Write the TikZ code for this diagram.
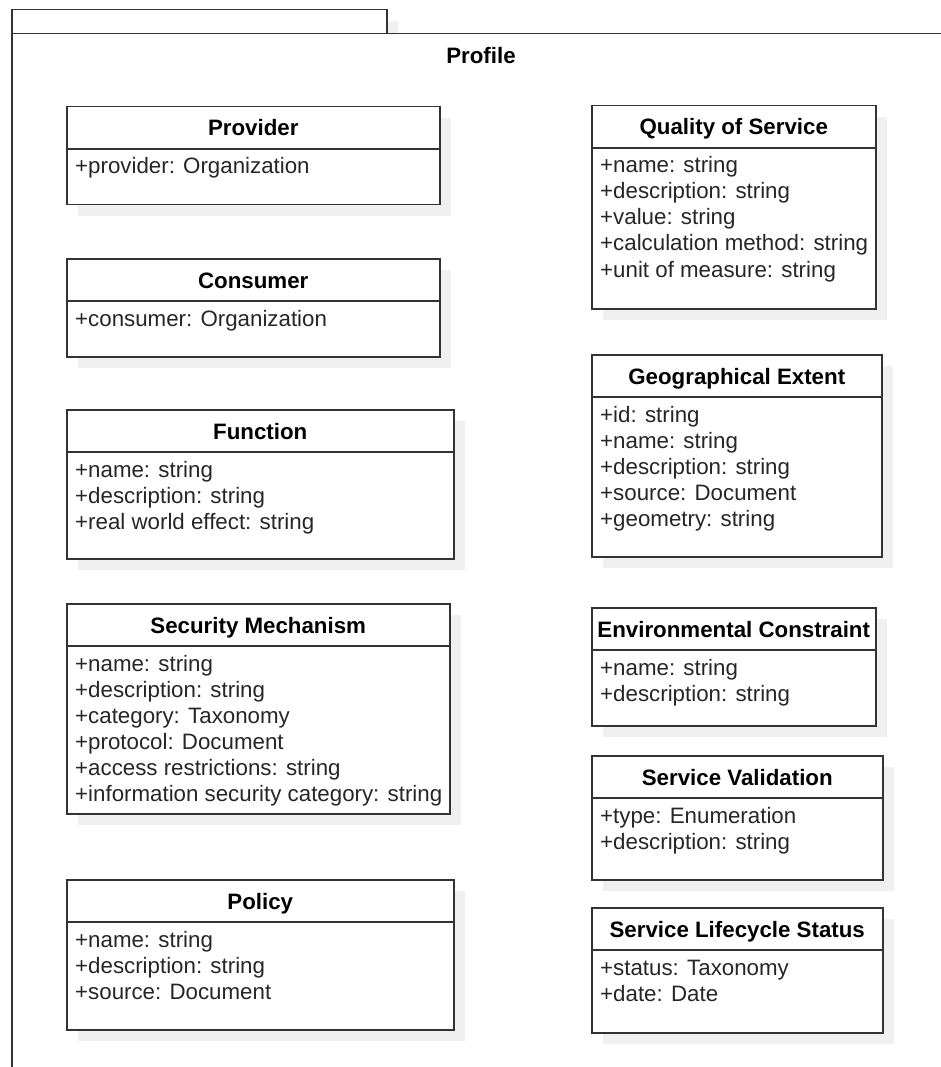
\documentclass[tikz,border=0pt]{standalone}
\usepackage{fontspec}
\setmainfont{Liberation Sans}
\usetikzlibrary{calc}
\definecolor{ProfileLine}{RGB}{51, 51, 51}
\definecolor{ProfileShadow}{RGB}{240, 240, 240}

\tikzset{
  frameline/.style={draw=ProfileLine, line width=1.5pt, fill=white, rectangle, inner sep=0pt, anchor=north west},
  classbox/.style={draw=ProfileLine, line width=1.5pt, fill=white, rectangle, inner sep=0pt, anchor=north west},
  classshadow/.style={fill=ProfileShadow},
  classline/.style={draw=ProfileLine, line width=1.5pt},
  classtitle/.style={font=\fontsize{22.3}{26}\selectfont\bfseries, inner sep=0pt, anchor=base},
  classattr/.style={font=\fontsize{22.3}{26}\selectfont, inner sep=0pt, anchor=base west, text=black!85}
}

% name, left, top, width, height, title, attributes
\newcommand{\umlclass}[7]{
  \fill[classshadow] (#2+12,#3+12) rectangle ++(#4,#5);
  \node[classbox, minimum width=#4, minimum height=#5] (#1) at (#2,#3) {};
  \draw[classline] ([yshift=-43pt]#1.north west) -- ([yshift=-43pt]#1.north east);
  \node[classtitle] (#1-title) at ([yshift=-30pt]#1.north) {#6};
  \foreach \attr [count=\k] in {#7}
    \node[classattr] (#1-attr-\k) at ([xshift=9pt, yshift={-68-26*(\k-1)}]#1.north west) {\attr};
}

\begin{document}
\begin{tikzpicture}[x=1pt, y=-1pt]
  \useasboundingbox (0,0) rectangle (941,1067);
  \clip (0,0) rectangle (941,1067);

  % package frame
  \fill[classshadow] (23,21) rectangle (398,45);
  \node[frameline, minimum width=375, minimum height=24] (profile-tab) at (11,9) {};
  \node[frameline, minimum width=960, minimum height=1060] (profile) at (11,33) {};
  \node[classtitle] (profile-title) at (481,64) {Profile};

  % left column
  \umlclass{provider}{66}{106}{373}{98}{Provider}{+provider: Organization}
  \umlclass{consumer}{66}{258}{373}{98}{Consumer}{+consumer: Organization}
  \umlclass{function}{66}{409}{387}{149}{Function}{+name: string, +description: string, +real world effect: string}
  \umlclass{security}{66}{603}{383}{210}{Security Mechanism}{+name: string, +description: string, +category: Taxonomy, +protocol: Document, +access restrictions: string, +information security category: string}
  \umlclass{policy}{66}{879}{387}{150}{Policy}{+name: string, +description: string, +source: Document}

  % right column
  \umlclass{qos}{591}{105}{284}{203}{Quality of Service}{+name: string, +description: string, +value: string, +calculation method: string, +unit of measure: string}
  \umlclass{geoextent}{591}{354}{290}{202}{Geographical Extent}{+id: string, +name: string, +description: string, +source: Document, +geometry: string}
  \umlclass{envconstraint}{591}{607}{284}{118}{Environmental Constraint}{+name: string, +description: string}
  \umlclass{validation}{591}{755}{291}{124}{Service Validation}{+type: Enumeration, +description: string}
  \umlclass{lifecycle}{591}{907}{291}{125}{Service Lifecycle Status}{+status: Taxonomy, +date: Date}
\end{tikzpicture}
\end{document}
